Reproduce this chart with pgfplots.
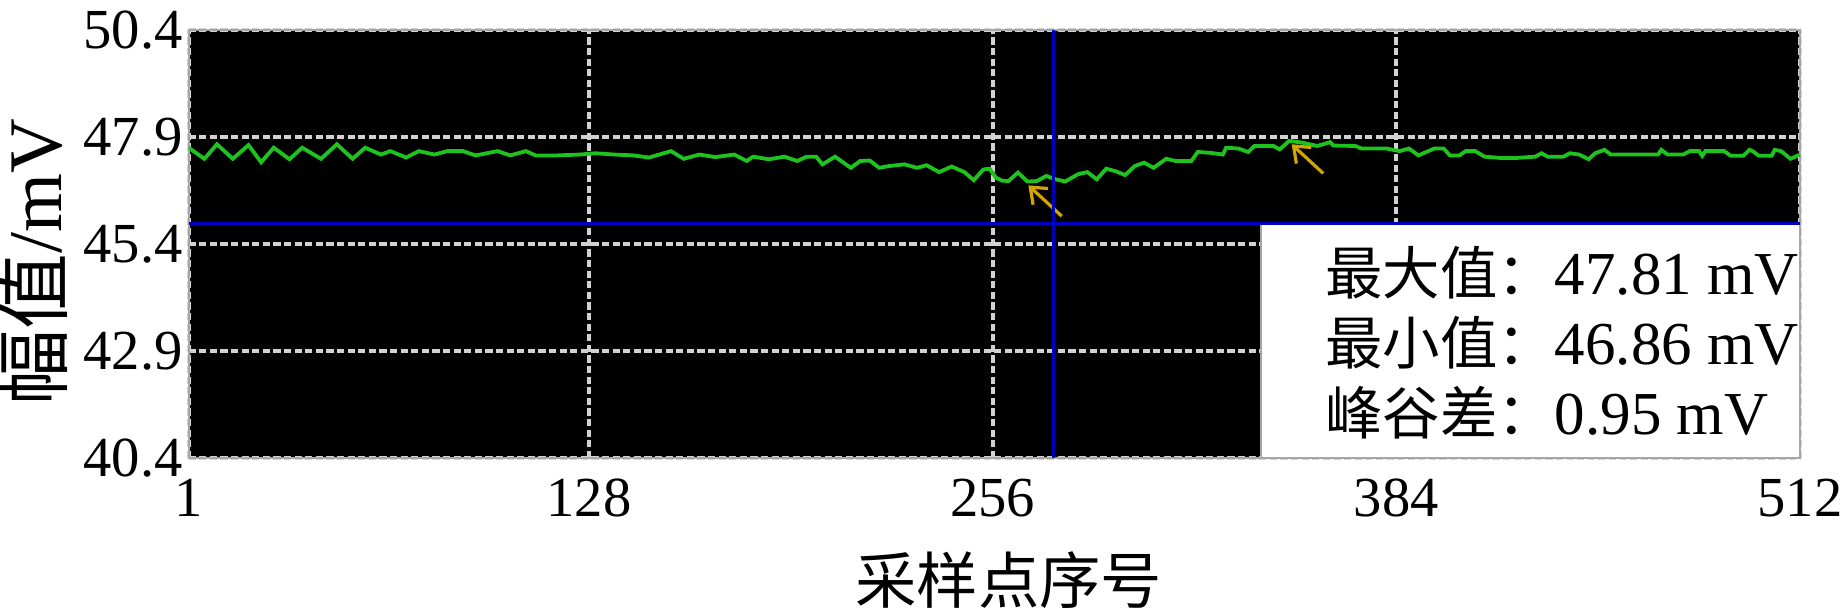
\documentclass[border=0pt]{standalone}
\usepackage{pgfplots}
\pgfplotsset{compat=1.18}
\usepackage{fontspec}
\setmainfont{Liberation Serif}
\newfontfamily\cjk{Noto Sans CJK SC}
\usetikzlibrary{arrows.meta}
\definecolor{trace}{RGB}{30,195,30}
\definecolor{cursor}{RGB}{0,0,190}
\definecolor{arrowc}{RGB}{210,165,0}
\definecolor{gridc}{RGB}{210,210,210}
\newcommand{\cj}[1]{{\fontsize{14.4}{14.4}\selectfont\cjk #1}}
\begin{document}
\begin{tikzpicture}
\useasboundingbox (0,0) rectangle (462bp,152.25bp);
\begin{axis}[
  at={(47.15bp,37.75bp)}, anchor=south west,
  scale only axis, width=402.85bp, height=107bp,
  xmin=1, xmax=512, ymin=40.4, ymax=50.4,
  xtick={1,128,256,384,512}, xticklabels={1,128,256,384,512},
  ytick={40.4,42.9,45.4,47.9,50.4}, yticklabels={40.4,42.9,45.4,47.9,50.4},
  major tick length=0pt,
  axis background/.style={fill=black},
  axis line style={draw=gray!70, line width=0.5bp},
  grid=major,
  major grid style={draw=gridc, line width=1bp, dash pattern=on 1.8bp off 0.85bp},
  tick label style={font=\fontsize{14.2}{14.2}\selectfont},
  /pgf/number format/assume math mode=true,
  yticklabel style={xshift=2bp},
  xticklabel style={yshift=-1.8bp},
  xlabel={{\cjk 采样点序号}},
  xlabel style={at={(axis description cs:0.509,-0.285)}, anchor=center, font=\fontsize{15.4}{15.4}\selectfont},
  ylabel={{\cjk 幅值}/mV},
  ylabel style={at={(axis description cs:-0.097,0.458)}, anchor=center, font=\fontsize{19}{19}\selectfont},
  clip=true,
]
\addplot[trace, line width=0.95bp] coordinates {
(1,47.65)(6,47.39)(10,47.73)(15,47.39)(20,47.71)(24,47.31)(28,47.65)(33,47.38)
(37,47.65)(43,47.39)(48,47.73)(53,47.39)(57,47.65)(62,47.49)(65,47.57)(70,47.42)
(74,47.57)(79,47.49)(83,47.57)(88,47.57)(92,47.47)(99,47.57)(103,47.47)(108,47.57)
(111,47.47)(118,47.47)(125,47.49)(130,47.52)(136,47.49)(142,47.47)(147,47.42)
(154,47.57)(158,47.39)(163,47.49)(168,47.43)(174,47.49)(178,47.34)(180,47.44)
(185,47.38)(190,47.44)(194,47.34)(197,47.44)(200,47.44)(202,47.26)(206,47.44)
(211,47.18)(214,47.34)(217,47.35)(220,47.18)(223,47.22)(228,47.26)(232,47.18)
(235,47.24)(239,47.08)(243,47.21)(247,47.08)(250,46.89)(253,47.14)(255,47.16)
(257,46.95)(259,46.88)(261,46.87)(264,47.07)(267,46.86)(270,46.87)(273,46.99)
(276,46.91)(279,46.86)(283,47.03)(286,47.08)(289,46.91)(292,47.16)(295,47.10)
(298,47.01)(301,47.22)(304,47.30)(307,47.18)(311,47.39)(314,47.34)(319,47.34)
(321,47.55)(325,47.53)(329,47.49)(330,47.65)(334,47.63)(337,47.55)(339,47.69)
(345,47.69)(347,47.61)(350,47.81)(354,47.77)(359,47.69)(363,47.78)(364,47.70)
(371,47.69)(373,47.63)(381,47.63)(385,47.57)(388,47.63)(391,47.47)(396,47.63)
(399,47.63)(401,47.47)(404,47.47)(406,47.57)(409,47.57)(412,47.44)(417,47.41)
(422,47.41)(428,47.44)(430,47.52)(432,47.44)(437,47.44)(439,47.52)(442,47.49)
(445,47.38)(447,47.52)(450,47.60)(452,47.49)(467,47.49)(468,47.60)(470,47.49)
(475,47.49)(477,47.57)(480,47.57)(481,47.46)(482,47.57)(488,47.57)(490,47.46)
(494,47.46)(496,47.60)(497,47.57)(499,47.46)(503,47.46)(504,47.60)(506,47.57)
(509,47.39)(512,47.49)
};
\draw[arrowc, line width=0.8bp, -{Straight Barb[length=3.5bp,width=5.5bp]}] (axis cs:277.9,46.05) -- (axis cs:267.3,46.77);
\draw[arrowc, line width=0.8bp, -{Straight Barb[length=3.5bp,width=5.5bp]}] (axis cs:360.8,47.05) -- (axis cs:350.8,47.73);
\fill[white, draw=gray!70, line width=0.5bp] (axis cs:341.1,40.4) rectangle (axis cs:512,45.88);
\draw[cursor, line width=0.8bp] (axis cs:1,45.88) -- (axis cs:512,45.88);
\draw[cursor, line width=0.8bp] (axis cs:275.3,40.4) -- (axis cs:275.3,50.4);
\node[anchor=base west, font=\fontsize{15.3}{15.3}\selectfont, inner sep=0pt] at (axis cs:361.2,44.21) {\cj{最大值：}47.81 mV};
\node[anchor=base west, font=\fontsize{15.3}{15.3}\selectfont, inner sep=0pt] at (axis cs:361.2,42.59) {\cj{最小值：}46.86 mV};
\node[anchor=base west, font=\fontsize{15.3}{15.3}\selectfont, inner sep=0pt] at (axis cs:361.2,40.96) {\cj{峰谷差：}0.95 mV};
\end{axis}
\end{tikzpicture}
\end{document}
